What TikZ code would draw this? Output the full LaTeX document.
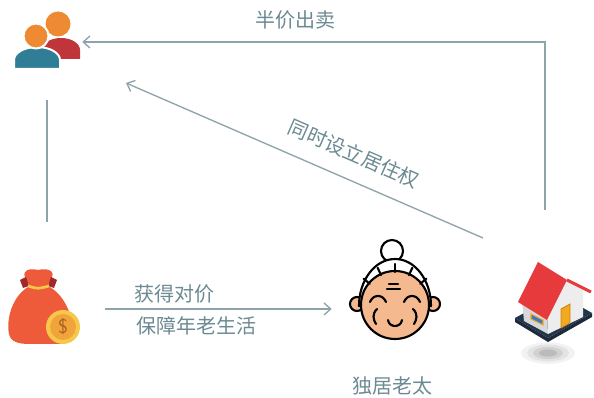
\documentclass[tikz,border=0pt]{standalone}
\usepackage{fontspec}
\newfontfamily\cjk{Noto Sans CJK SC}
\usetikzlibrary{arrows.meta,positioning}

\definecolor{linegray}{HTML}{8EA4AA}
\definecolor{txtgray}{HTML}{6C8A93}
\definecolor{headorange}{HTML}{EE8A32}
\definecolor{bodyred}{HTML}{BF353A}
\definecolor{bodyblue}{HTML}{2F7E95}
\definecolor{bagred}{HTML}{EE5B3B}
\definecolor{tiered}{HTML}{A1282B}
\definecolor{coinyellow}{HTML}{F6C84A}
\definecolor{coinorange}{HTML}{F1A43C}
\definecolor{coinbrown}{HTML}{A8641E}
\definecolor{skin}{HTML}{F4B98F}
\definecolor{roofred}{HTML}{E63A3C}
\definecolor{wallgray}{HTML}{EDEDED}
\definecolor{wallshade}{HTML}{D6D8DA}
\definecolor{slabnavy}{HTML}{23354B}
\definecolor{doororange}{HTML}{F4A81F}
\definecolor{winblue}{HTML}{3B7CC4}

\begin{document}
\begin{tikzpicture}[%
x=0.75pt, y=-0.75pt,
>={Straight Barb[length=5pt,width=9pt]},
link/.style={draw=linegray, line width=1pt},
lbl/.style={text=txtgray, font=\cjk\fontsize{15pt}{18pt}\selectfont, inner sep=2pt},
icon/.style={inner sep=0pt, minimum width=52.5pt, minimum height=45pt},
ink/.style={draw=black, line width=1.6pt, line cap=round, line join=round}
]
\fill[white] (0,0) rectangle (594,398);
\useasboundingbox (0,0) rectangle (594,398);

\node[icon] (buyer) at (47,42) {};
\node[icon, minimum height=60pt] (bag) at (47,309) {};
\node[icon, minimum width=64.5pt] (granny) at (395,309) {};
\node[icon, minimum width=60pt] (house) at (553,305) {};
\node[lbl] (alone) at (392,386) {独居老太};

\coordinate (sell) at (545,210);
\coordinate (keep) at (483,238);
\coordinate (tip) at (126,83);

% buyers: two people
\fill[bodyred] (42,59) -- (42,50) arc[start angle=180,end angle=360,x radius=19,y radius=12] -- (80,59) -- cycle;
\fill[headorange] (58,24) circle[radius=12.5];
\filldraw[fill=bodyblue, draw=white, line width=1.5pt] (14,69) -- (14,60)
   arc[start angle=180,end angle=360,x radius=23,y radius=13] -- (60,69) -- cycle;
\filldraw[fill=headorange, draw=white, line width=1.5pt] (36,36) circle[radius=12.5];

% money bag and coin
\fill[bagred] (30,286) .. controls (12,295) and (6,320) .. (9,334)
   .. controls (11,342) and (18,344) .. (30,344) -- (55,344)
   .. controls (70,344) and (74,340) .. (73,330)
   .. controls (72,315) and (65,295) .. (48,286) -- cycle;
\fill[bagred] (31,289) -- (25,277) .. controls (22,270) and (30,268) .. (38,270)
   .. controls (46,268) and (55,270) .. (52,277) -- (46,289) -- cycle;
\fill[tiered] (20,280) -- (26,277) -- (29,286) -- (23,288) -- cycle;
\fill[tiered] (57,280) -- (51,277) -- (48,286) -- (54,288) -- cycle;
\draw[coinyellow, line width=2pt] (28,286) .. controls (38,289) .. (49,286);
\fill[coinyellow] (63,327) circle[radius=17];
\fill[coinorange] (63,327) circle[radius=13];
\node[text=coinbrown, font=\sffamily\fontsize{15pt}{15pt}\selectfont, inner sep=0pt] (dollar) at (63,327) {\$};

% old lady
\filldraw[ink, fill=white] (392,251) circle[radius=11];
\filldraw[ink, fill=skin] (357,304) circle[radius=7];
\filldraw[ink, fill=skin] (433,304) circle[radius=7];
\filldraw[ink, fill=white] (359,306) arc[start angle=180,end angle=360,x radius=36,y radius=47] -- cycle;
\filldraw[ink, fill=skin] (395,305) circle[radius=34];
\foreach \a in {220,245,270,295,320}
  \draw[ink] (395,305) +(\a:33) -- +(\a:41);
\draw[ink] (389,284) -- (398,284);
\draw[ink] (387,289) -- (400,289);
\draw[ink] (370,302) .. controls (373,294) and (383,294) .. (386,302);
\draw[ink] (404,302) .. controls (407,294) and (417,294) .. (420,302);
\draw[ink] (377,309) .. controls (372,314) and (373,319) .. (376,324);
\draw[ink] (413,309) .. controls (418,314) and (417,319) .. (414,324);
\draw[ink] (388,320) .. controls (389,328) and (401,328) .. (402,320);

% house on its slab
\foreach \r/\o in {27/0.05,21/0.06,15/0.08,9/0.10}
  \fill[black, opacity=\o] (548,353) circle[x radius=\r, y radius=0.4*\r];
\fill[slabnavy!80!black] (515,318) -- (515,322) -- (548,342) -- (592,317) -- (592,313) -- (548,338) -- cycle;
\fill[slabnavy] (515,318) -- (548,338) -- (592,313) -- (559,294) -- cycle;
\fill[wallshade] (522,300) -- (547,315) -- (548,334) -- (524,321) -- cycle;
\fill[wallgray] (547,315) -- (567,280) -- (583,289) -- (583,317) -- (548,334) -- cycle;
\fill[winblue] (531,314) -- (543,320) -- (543,325) -- (531,319) -- cycle;
\draw[doororange, line width=0.8pt] (531,314) -- (543,320) -- (543,325) -- (531,319) -- cycle;
\filldraw[fill=doororange, draw=doororange!80!black, line width=0.6pt] (561,309) -- (570,304) -- (570,323) -- (561,328) -- cycle;
\draw[roofred, line width=2.2pt] (567,280) -- (591,292);
\fill[roofred] (518,302) -- (538,262) -- (567,280) -- (547,320) -- cycle;

% sold at half price
\draw[link,->] (sell) |- node[lbl, pos=0.77, above=7pt] {半价出卖} (buyer.east);
% right of residence kept
\draw[link,->] (keep) -- node[lbl, sloped, pos=0.39, above=10pt] {同时设立居住权} (tip);
% buyer pays
\draw[link, shorten <=21pt, shorten >=35pt] (buyer) -- (bag);
\draw[link,->, shorten <=17pt, shorten >=15pt] (bag) --
   node[lbl, pos=0.174, above right=2.5pt] {获得对价}
   node[lbl, pos=0.174, below right=4.5pt] {保障年老生活} (granny);
\end{tikzpicture}
\end{document}
